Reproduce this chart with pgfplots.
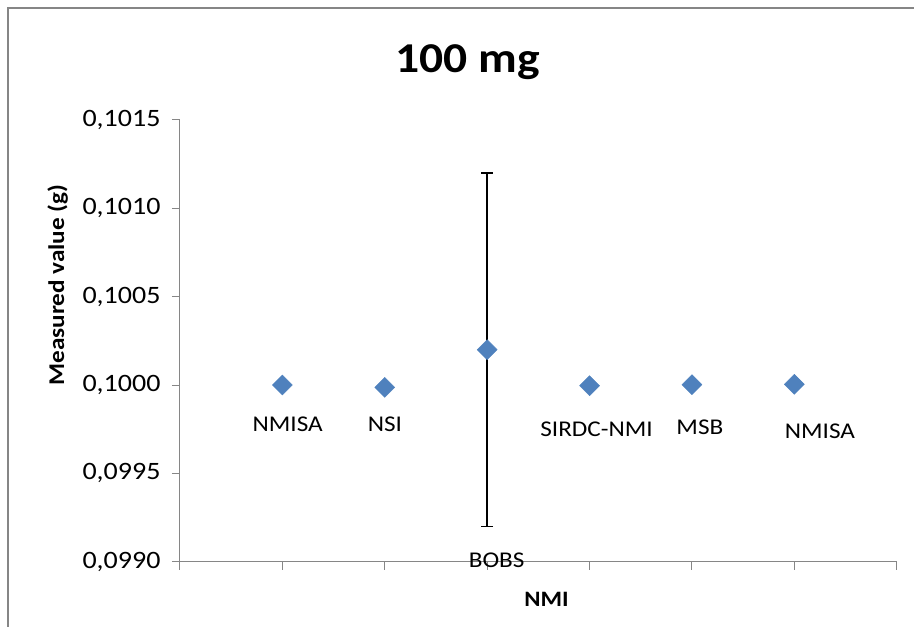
\documentclass[border=0pt]{standalone}
\usepackage{fontspec}
\setmainfont{Carlito}[FakeStretch=1.12]
\usepackage{pgfplots}
\pgfplotsset{compat=1.18}
\definecolor{axgray}{HTML}{868686}
\definecolor{mblue}{HTML}{4F81BD}
\begin{document}
\begin{tikzpicture}
\useasboundingbox (0,0) rectangle (914pt,627pt);
\draw[axgray, line width=1.5pt] (8pt,0pt) -- (8pt,619pt) -- (914pt,619pt);
\begin{axis}[
  at={(180pt,65.3pt)}, anchor=south west,
  scale only axis, width=716.7pt, height=441.7pt,
  xmin=0, xmax=7, ymin=0.099, ymax=0.1015,
  axis x line*=bottom, axis y line*=left,
  axis line style={draw=axgray, line width=1pt, -},
  tick style={draw=axgray, line width=1pt},
  tick align=outside, major tick length=8pt,
  xtick={0,1,2,3,4,5,6,7}, xticklabels={},
  ytick={0.099,0.0995,0.1,0.1005,0.101,0.1015},
  yticklabels={{0,0990},{0,0995},{0,1000},{0,1005},{0,1010},{0,1015}},
  yticklabel style={font=\fontsize{25}{30}\selectfont, xshift=-8pt},
  clip=false,
]
\addplot[only marks, mark=square*, mark size=7.07pt,
  mark options={rotate=45, fill=mblue, draw=mblue},
  error bars/.cd, y dir=both, y explicit,
  error bar style={black, line width=1.5pt},
  error mark options={black, line width=1.5pt, rotate=90, mark size=6pt}]
  coordinates {
  (1,0.100000) +- (0,0)
  (2,0.099987) +- (0,0)
  (3,0.100200) +- (0,0.001)
  (4,0.099996) +- (0,0)
  (5,0.100002) +- (0,0)
  (6,0.100004) +- (0,0)
  };
\begin{scope}[every node/.style={font=\fontsize{22.5}{27}\selectfont, inner sep=0pt}]
\node at (axis cs:1.052,0.099779) {NMISA};
\node at (axis cs:2.002,0.099779) {NSI};
\node at (axis cs:3.093,0.099010) {BOBS};
\node at (axis cs:4.069,0.099751) {SIRDC-NMI};
\node at (axis cs:5.078,0.099758) {MSB};
\node at (axis cs:6.25,0.099736) {NMISA};
\end{scope}
\end{axis}
\node[anchor=base, font=\bfseries\fontsize{42.5}{50}\selectfont, inner sep=0pt] at (467.5pt,554pt) {100 mg};
\node[anchor=base, font=\bfseries\fontsize{22}{26}\selectfont, inner sep=0pt] at (546.5pt,20pt) {NMI};
\node[anchor=base, rotate=90, font=\bfseries\fontsize{22.5}{27}\selectfont, inner sep=0pt] at (64pt,342pt) {Measured value (g)};
\end{tikzpicture}
\end{document}
